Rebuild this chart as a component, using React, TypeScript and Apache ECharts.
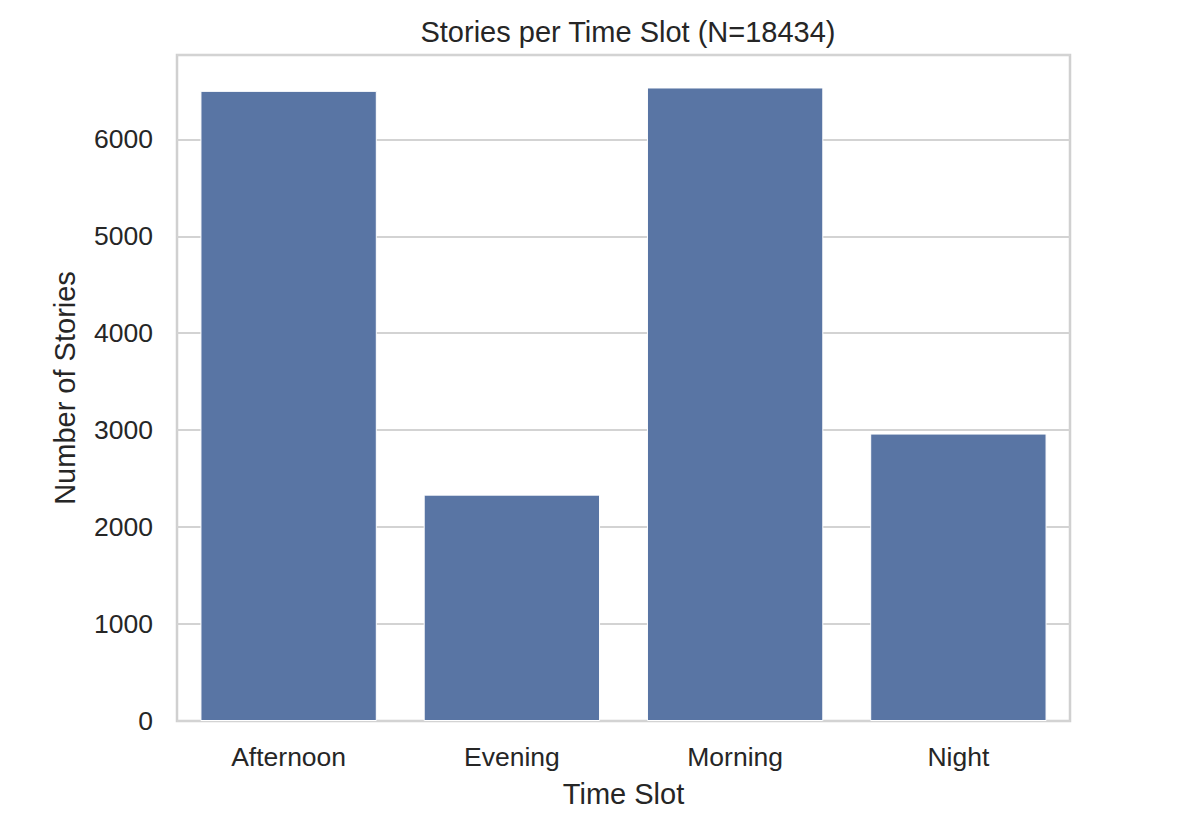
import React, { useEffect, useRef } from "react";
import * as echarts from "echarts";

const categories = ["Afternoon", "Evening", "Morning", "Night"];
const stories = [6500, 2335, 6535, 2965];
const yTicks = [0, 1000, 2000, 3000, 4000, 5000, 6000];
const yMax = 6870;
const titleText = "Stories per Time Slot (N=18434)";
const xName = "Time Slot";
const yName = "Number of Stories";

export default function App() {
  const ref = useRef<HTMLDivElement>(null);
  useEffect(() => {
    if (!ref.current) return;
    const chart = echarts.init(ref.current, undefined, { renderer: "svg" });
    const font = "'Liberation Sans', Arial, sans-serif";
    const txt = "#262626";
    chart.setOption({
      animation: false,
      backgroundColor: "#ffffff",
      title: {
        text: titleText,
        left: 623,
        top: 12,
        textAlign: "center",
        textStyle: { fontFamily: font, fontSize: 29, fontWeight: "normal", color: txt },
      },
      grid: {
        left: 177,
        right: 108,
        top: 55,
        bottom: 107,
        show: true,
        borderColor: "#d0d0d0",
        borderWidth: 2.5,
        backgroundColor: "transparent",
      },
      xAxis: {
        type: "category",
        data: categories,
        name: xName,
        nameLocation: "middle",
        nameGap: 58,
        nameTextStyle: { fontFamily: font, fontSize: 29, color: txt },
        axisLine: { show: false },
        axisTick: { show: false },
        axisLabel: { fontFamily: font, fontSize: 26.5, color: txt, margin: 22 },
        splitLine: { show: false },
      },
      yAxis: {
        type: "value",
        min: 0,
        max: yMax,
        interval: 1000,
        name: yName,
        nameLocation: "middle",
        nameGap: 98,
        nameTextStyle: { fontFamily: font, fontSize: 29, color: txt },
        axisLine: { show: false },
        axisTick: { show: false },
        axisLabel: {
          fontFamily: font,
          fontSize: 26.5,
          color: txt,
          margin: 24,
          formatter: (v: number) => (yTicks.includes(v) ? String(v) : ""),
        },
        splitLine: { show: true, lineStyle: { color: "#d3d3d3", width: 2 } },
      },
      series: [
        {
          type: "bar",
          data: stories,
          barWidth: "79%",
          itemStyle: { color: "#5975a4", borderColor: "#ffffff", borderWidth: 1 },
        },
      ],
    });
    return () => chart.dispose();
  }, []);
  return <div ref={ref} style={{ width: 1178, height: 828, position: "absolute", left: 0, top: 0 }} />;
}
